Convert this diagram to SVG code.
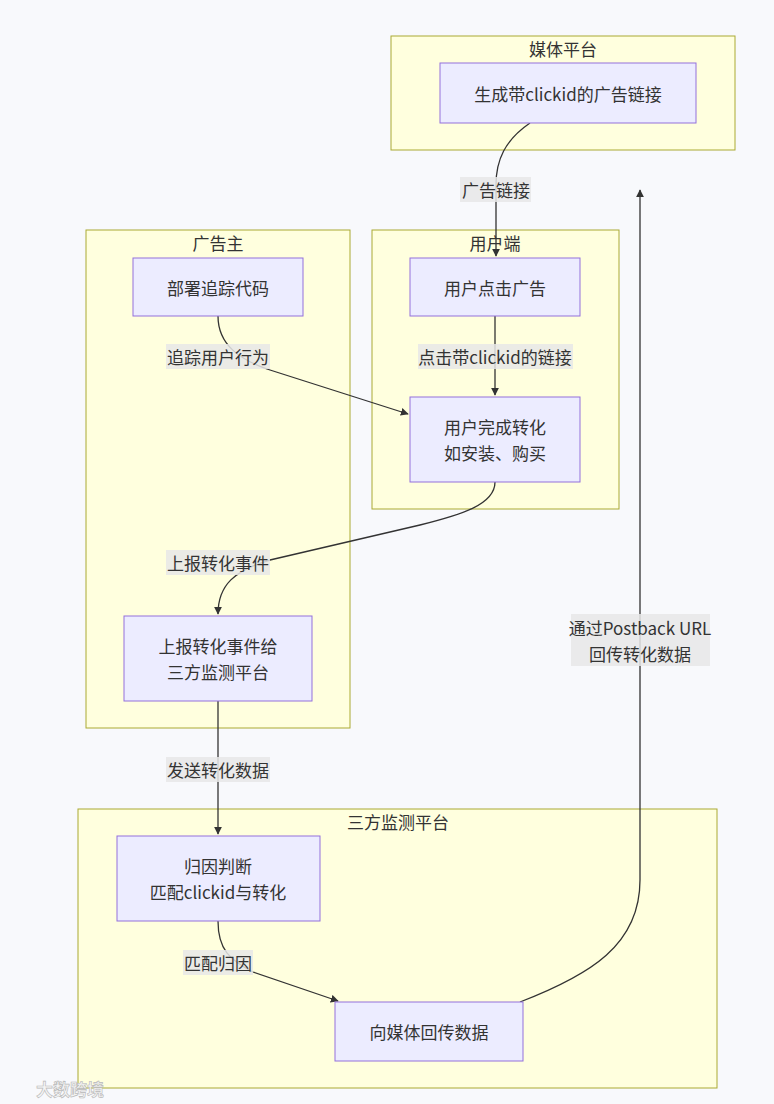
<svg xmlns="http://www.w3.org/2000/svg" width="774" height="1104" viewBox="0 0 774 1104">
<style>
text{font-family:"Noto Sans CJK SC","Liberation Sans",sans-serif;font-size:17px;fill:#333;text-anchor:middle;dominant-baseline:central}
.cl{fill:#ffffde;stroke:#aaaa33;stroke-width:1}
.nd{fill:#ececff;stroke:#9370db;stroke-width:1}
.lb{fill:#e8e8e8;opacity:0.85}
.ed{fill:none;stroke:#333;stroke-width:1.3}
</style>
<defs>
<marker id="ah" viewBox="0 0 10 10" refX="9" refY="5" markerWidth="8" markerHeight="8" markerUnits="userSpaceOnUse" orient="auto">
<path d="M0,0 L10,5 L0,10 z" fill="#333"/>
</marker>
</defs>
<rect width="774" height="1104" fill="#f8f9fc"/>
<g id="clusters">
<g id="c-media"><rect class="cl" x="391" y="36" width="344" height="114"/><text x="563" y="48">媒体平台</text></g>
<g id="c-user"><rect class="cl" x="372" y="230" width="247" height="279"/><text x="495" y="242">用户端</text></g>
<g id="c-adv"><rect class="cl" x="86" y="230" width="264" height="498"/><text x="218" y="242">广告主</text></g>
<g id="c-third"><rect class="cl" x="78" y="809" width="639" height="279"/><text x="398" y="821">三方监测平台</text></g>
</g>
<g id="edges">
<path class="ed" d="M530,123 C505,140 496,160 496,185 L496,256" marker-end="url(#ah)"/>
<path class="ed" d="M495,316 L495,395" marker-end="url(#ah)"/>
<path class="ed" d="M218,316 C218,345 240,360 270,370 L408,414" marker-end="url(#ah)"/>
<path class="ed" d="M495,482 C495,505 460,515 420,525 L270,560 C235,570 218,585 218,614" marker-end="url(#ah)"/>
<path class="ed" d="M218,701 L218,834" marker-end="url(#ah)"/>
<path class="ed" d="M218,921 C218,950 230,960 253,972 L338,1001" marker-end="url(#ah)"/>
<path class="ed" d="M520,1002 C590,975 640,945 640,880 L640,190" marker-end="url(#ah)"/>
</g>
<g id="edge-labels">
<g><rect class="lb" x="460" y="177" width="71" height="25"/><text x="496" y="189">广告链接</text></g>
<g><rect class="lb" x="418" y="344" width="155" height="25"/><text x="495" y="356">点击带clickid的链接</text></g>
<g><rect class="lb" x="166" y="344" width="104" height="25"/><text x="218" y="356">追踪用户行为</text></g>
<g><rect class="lb" x="166" y="550" width="104" height="25"/><text x="218" y="562">上报转化事件</text></g>
<g><rect class="lb" x="166" y="757" width="104" height="25"/><text x="218" y="769">发送转化数据</text></g>
<g><rect class="lb" x="183" y="950" width="70" height="25"/><text x="218" y="962">匹配归因</text></g>
<g><rect class="lb" x="571" y="614" width="139" height="52"/><text x="640" y="627">通过Postback URL</text><text x="640" y="653">回传转化数据</text></g>
</g>
<g id="n-gen"><rect class="nd" x="440" y="63" width="256" height="60"/><text x="568" y="93">生成带clickid的广告链接</text></g>
<g id="n-click"><rect class="nd" x="410" y="258" width="170" height="58"/><text x="495" y="287">用户点击广告</text></g>
<g id="n-conv"><rect class="nd" x="410" y="397" width="170" height="85"/><text x="495" y="426">用户完成转化</text><text x="495" y="452">如安装、购买</text></g>
<g id="n-deploy"><rect class="nd" x="133" y="258" width="170" height="58"/><text x="218" y="287">部署追踪代码</text></g>
<g id="n-report"><rect class="nd" x="124" y="616" width="188" height="85"/><text x="218" y="645">上报转化事件给</text><text x="218" y="671">三方监测平台</text></g>
<g id="n-attr"><rect class="nd" x="117" y="836" width="203" height="85"/><text x="218" y="865">归因判断</text><text x="218" y="891">匹配clickid与转化</text></g>
<g id="n-back"><rect class="nd" x="335" y="1002" width="188" height="59"/><text x="429" y="1031">向媒体回传数据</text></g>
<g id="watermark"><text x="70" y="1088" style="fill:#f4f4f4;stroke:#b8b8b8;stroke-width:0.6;font-size:17px;font-weight:bold">大数跨境</text></g>
</svg>
